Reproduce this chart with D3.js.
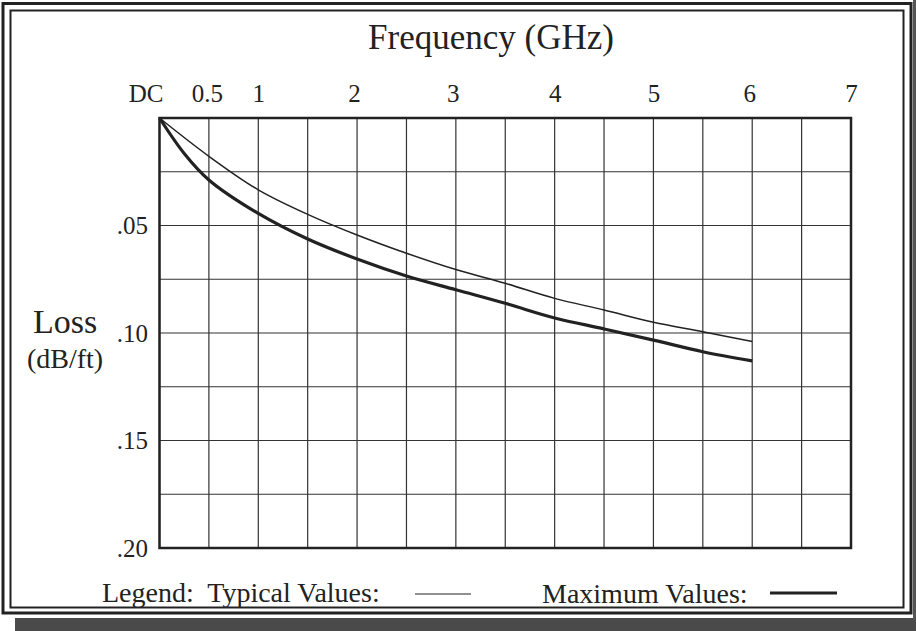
<!DOCTYPE html>
<html>
<head>
<meta charset="utf-8">
<script src="https://cdn.jsdelivr.net/npm/d3@7"></script>
<style>
  html, body { margin: 0; padding: 0; background: #ffffff; }
  svg { display: block; }
  text { font-family: "Liberation Serif", "Times New Roman", serif; fill: #222; }
</style>
</head>
<body>
<script>
// ---- data ----
const freqTicks = [0, 0.5, 1, 2, 3, 4, 5, 6, 7];
const freqTickLabels = ["DC", "0.5", "1", "2", "3", "4", "5", "6", "7"];
const lossTicks = [0.05, 0.10, 0.15, 0.20];
const lossTickLabels = [".05", ".10", ".15", ".20"];
const typicalFreq = [0, 0.5, 1, 1.5, 2, 2.5, 3, 3.5, 4, 4.5, 5, 5.5, 6];
const typicalLoss = [0, 0.0178, 0.0334, 0.0448, 0.0544, 0.0629, 0.0705, 0.0769, 0.0839, 0.0893, 0.0950, 0.0994, 0.1040];
const maximumFreq = [0, 0.25, 0.5, 1, 1.5, 2, 2.5, 3, 3.5, 4, 4.5, 5, 5.5, 6];
const maximumLoss = [0, 0.0165, 0.0288, 0.0444, 0.0563, 0.0656, 0.0735, 0.0799, 0.0862, 0.0930, 0.0981, 0.1033, 0.1087, 0.1130];
const titleText = "Frequency (GHz)";
const yTitle1 = "Loss";
const yTitle2 = "(dB/ft)";
const legendPrefix = "Legend:  Typical Values:";
const legendMax = "Maximum Values:";

// ---- layout ----
const W = 916, H = 631;
const ink = "#222";
const svg = d3.select("body").append("svg").attr("width", W).attr("height", H);

// page frame
svg.append("rect").attr("x", 0).attr("y", 0).attr("width", W).attr("height", H).attr("fill", "#fff");
svg.append("rect").attr("x", 15).attr("y", 618).attr("width", W - 15).attr("height", H - 618).attr("fill", "#4a4a4a");
svg.append("rect").attr("x", 913).attr("y", 0).attr("width", 3).attr("height", 620).attr("fill", "#555");
svg.append("rect").attr("x", 3).attr("y", 3.5).attr("width", 908).attr("height", 609.5)
  .attr("fill", "none").attr("stroke", ink).attr("stroke-width", 3);
svg.append("rect").attr("x", 10.5).attr("y", 10.5).attr("width", 893).attr("height", 597)
  .attr("fill", "none").attr("stroke", ink).attr("stroke-width", 2);

const x = d3.scaleLinear().domain([0, 7]).range([159.5, 851]);
const y = d3.scaleLinear().domain([0, 0.2]).range([118, 548]);

// grid
const g = svg.append("g");
const xGrid = d3.range(0, 7.01, 0.5);
const yGrid = d3.range(0, 0.2001, 0.025);
g.selectAll("line.vg").data(xGrid).join("line")
  .attr("x1", d => x(d)).attr("x2", d => x(d))
  .attr("y1", y(0)).attr("y2", y(0.2))
  .attr("stroke", "#333").attr("stroke-width", 1.2);
g.selectAll("line.hg").data(yGrid).join("line")
  .attr("x1", x(0)).attr("x2", x(7))
  .attr("y1", d => y(d)).attr("y2", d => y(d))
  .attr("stroke", "#333").attr("stroke-width", 1.2);
g.append("rect").attr("x", x(0)).attr("y", y(0))
  .attr("width", x(7) - x(0)).attr("height", y(0.2) - y(0))
  .attr("fill", "none").attr("stroke", ink).attr("stroke-width", 2.5);

// top axis labels
const xAxis = d3.axisTop(x).tickValues(freqTicks)
  .tickFormat((d, i) => freqTickLabels[i]).tickSize(0).tickPadding(0);
const xa = svg.append("g").attr("transform", "translate(0,102)").call(xAxis);
xa.select(".domain").remove();
xa.selectAll("text")
  .attr("font-size", 25).attr("font-family", "Liberation Serif").attr("fill", ink)
  .attr("dy", 0)
  .attr("dx", (d) => d === 0 ? -14 : (d === 0.5 ? -2 : (d === 2 || d === 3 || d === 6 ? -3 : 0)));

// left axis labels
const yAxis = d3.axisLeft(y).tickValues(lossTicks)
  .tickFormat((d, i) => lossTickLabels[i]).tickSize(0).tickPadding(0);
const ya = svg.append("g").attr("transform", "translate(148,0)").call(yAxis);
ya.select(".domain").remove();
ya.selectAll("text")
  .attr("font-size", 25).attr("font-family", "Liberation Serif").attr("fill", ink);

// titles
svg.append("text").attr("x", 491).attr("y", 49).attr("text-anchor", "middle")
  .attr("font-size", 35).text(titleText);
svg.append("text").attr("x", 65).attr("y", 333).attr("text-anchor", "middle")
  .attr("font-size", 34).text(yTitle1);
svg.append("text").attr("x", 65).attr("y", 368).attr("text-anchor", "middle")
  .attr("font-size", 28).text(yTitle2);

// curves
const line = d3.line().x(d => x(d[0])).y(d => y(d[1])).curve(d3.curveCatmullRom.alpha(0.5));
svg.append("path").datum(typicalFreq.map((f, i) => [f, typicalLoss[i]]))
  .attr("d", line).attr("fill", "none").attr("stroke", ink).attr("stroke-width", 1.5);
svg.append("path").datum(maximumFreq.map((f, i) => [f, maximumLoss[i]]))
  .attr("d", line).attr("fill", "none").attr("stroke", ink).attr("stroke-width", 3.2);

// legend
svg.append("text").attr("x", 102).attr("y", 602).attr("font-size", 28)
  .attr("xml:space", "preserve").style("white-space", "pre").text(legendPrefix);
svg.append("line").attr("x1", 415).attr("x2", 471).attr("y1", 594).attr("y2", 594)
  .attr("stroke", ink).attr("stroke-width", 1.2);
svg.append("text").attr("x", 542).attr("y", 603).attr("font-size", 28).text(legendMax);
svg.append("line").attr("x1", 770).attr("x2", 837).attr("y1", 593).attr("y2", 593)
  .attr("stroke", ink).attr("stroke-width", 3);
</script>
</body>
</html>
